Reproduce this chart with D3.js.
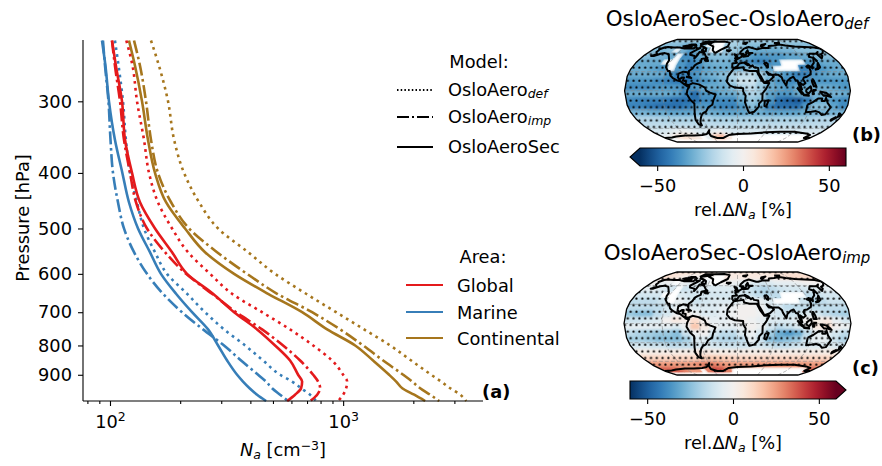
<!DOCTYPE html>
<html>
<head>
<meta charset="utf-8">
<script src="https://cdn.jsdelivr.net/npm/d3@7"></script>
<style>
  html, body { margin: 0; padding: 0; background: #fff; }
  text { font-family: "DejaVu Sans", sans-serif; fill: #000; }
</style>
</head>
<body>
<script>
// profile values, Na [cm-3] per pressure level
var pressure = [235, 260, 300, 350, 400, 450, 500, 550, 600, 650, 700, 750, 800, 850, 900, 925, 950, 975, 1000];

var marineSec = [92.4, 95.6, 99, 105, 113, 120.6, 131.9, 148.4, 165.4, 192, 224.9, 263.4, 290.8, 318, 350.9, 372, 396.9, 427.5, 467.3];
var marineImp = [93.3, 95.2, 98.5, 100.5, 103, 108.2, 114.8, 126.8, 144.1, 168.8, 203.6, 250.6, 308.5, 365, 431.8, 467.3, 495.7, 536.7, 580.6];
var marineDef = [105, 108.8, 113.7, 117, 121.9, 130.6, 139.9, 156, 175.6, 214, 255.7, 308.5, 379.6, 453.7, 536.7, 604, 660, 721.7, 766];

var globalSec = [102, 106, 112.6, 116, 124.3, 134.5, 156, 184.6, 214, 276.7, 340.6, 427.5, 510.6, 592, 641, 667, 660, 622, 575];
var globalImp = [102, 105, 110.4, 114.8, 121.9, 129.3, 144.1, 172.2, 212, 274, 347.4, 449, 552.7, 654, 743.6, 781, 796.7, 773.8, 721.7];
var globalDef = [117.5, 124.9, 130.6, 139.9, 147, 160.6, 184.6, 216, 268.7, 333.8, 449, 592, 743.6, 896.6, 1000, 1040, 1030, 1000, 951.7];

var contSec = [120.6, 128, 137.2, 145.5, 156, 173.9, 209.8, 255.7, 340.6, 476.5, 667, 853.8, 1126, 1344, 1575, 1689, 1793, 2018, 2248];
var contImp = [126.8, 134.5, 142.7, 149.9, 160.6, 182.8, 218.3, 287.9, 387, 521, 736, 970.6, 1218, 1485, 1809, 1978, 2140, 2360, 2582];
var contDef = [149.9, 162.2, 177.4, 188.3, 207.8, 241, 290.8, 391, 510.6, 693.6, 933, 1230, 1591, 1959, 2386, 2631, 2878, 3176, 3373];

var yTicks = [300, 400, 500, 600, 700, 800, 900];
var xMajor = [100, 1000];
var xMinor = [80, 90, 200, 300, 400, 500, 600, 700, 800, 900, 2000, 3000];
var cbarTicks = [-50, 0, 50];

// map cells: 15 deg lon (from -172.5) by 10 deg lat (from 85N), null = no data
var mapB = [
  [-20,-20,-20,-20,-20,-20,-20,-18,null,null,-15,-18,-20,-20,-20,-20,-20,-20,-20,-20,-20,-20,-20,-20],
  [-25,-25,-25,-28,-30,-30,-25,null,null,null,-20,-20,-22,-25,-25,-25,-25,-25,-25,-25,-25,-25,-25,-25],
  [-25,-28,-25,null,-28,-35,-30,-25,null,null,-22,-22,-25,-28,-30,-30,-30,-30,-28,-28,-25,-25,-25,-25],
  [-25,-28,-28,-30,null,-38,-35,-30,-25,-25,-25,-28,-30,-33,-35,-35,-35,-35,-32,-32,-30,-28,-25,-25],
  [-30,-30,-30,null,null,-35,-40,-35,-30,-28,-28,-30,-35,-38,-40,-40,-35,null,null,null,-35,-32,-30,-30],
  [-30,-30,-32,-35,null,-35,-40,-38,-32,-30,-30,-30,-30,-25,-30,-32,null,null,null,-40,-40,-35,-32,-30],
  [-30,-30,-30,-30,-35,-40,-40,-35,-30,-28,-25,-18,-15,-15,-20,-25,-30,-35,-40,-40,-35,-32,-30,-30],
  [-35,-35,-35,-38,-40,-42,-45,-40,-35,-32,-28,-20,-12,-12,-20,-30,-35,-38,-38,-35,-35,-35,-35,-35],
  [-38,-38,-38,-35,-35,-35,-40,-35,-30,-30,-30,-25,-18,-15,-22,-30,-32,-35,-30,-30,-30,-30,-32,-35],
  [-30,-30,-30,-30,-30,-32,-38,-45,-35,-35,-30,-30,-25,-18,-20,-32,-35,-35,-30,-28,-28,-28,-28,-30],
  [-38,-40,-40,-40,-42,-45,-45,-45,-38,-38,-38,-38,-30,-22,-25,-35,-45,-48,-50,-42,-30,-30,-35,-38],
  [-40,-40,-42,-45,-45,-45,-42,-35,-35,-38,-40,-40,-35,-25,-30,-40,-45,-45,-45,-35,-25,-25,-32,-38],
  [-28,-28,-30,-30,-32,-32,-32,-28,-28,-30,-32,-32,-32,-30,-30,-32,-32,-32,-32,-30,-28,-28,-28,-28],
  [-18,-18,-18,-20,-20,-20,-20,-18,-18,-20,-20,-20,-20,-20,-20,-20,-20,-20,-20,-20,-20,-18,-18,-18],
  [-15,-15,-15,-15,-15,-15,-15,-15,-15,-15,-15,-15,-15,-15,-15,-15,-15,-15,-15,-15,-15,-15,-15,-15],
  [-10,-10,-8,-5,-3,-5,-8,-8,-5,-3,-8,-10,-10,-10,-10,-10,-10,-10,-10,-10,-10,-10,-10,-10],
  [-5,-3,5,8,8,5,null,-5,15,20,5,null,null,null,null,null,null,null,null,null,null,null,null,-5],
  [null,null,null,null,null,null,null,null,null,null,null,null,null,null,null,null,null,null,null,null,null,null,null,null]
];
var mapC = [
  [8,8,8,8,6,6,6,6,null,null,5,5,6,6,6,6,6,6,8,8,8,8,8,8],
  [10,8,5,3,0,0,0,null,null,null,5,5,5,5,5,5,5,5,8,8,10,10,10,10],
  [0,-5,-3,null,-3,-5,-8,-5,null,null,0,-3,-5,-5,-8,-10,-8,-5,-5,-5,-3,0,0,0],
  [-5,-5,-8,-10,null,-12,-10,-8,-8,-8,-8,-8,-10,-12,-15,-18,-15,-12,-10,-10,-10,-8,-5,-5],
  [-10,-10,-10,null,null,-8,-10,-10,-10,-10,-10,-10,-10,-12,-15,-18,-15,null,null,null,-15,-12,-10,-10],
  [-15,-15,-15,-12,null,-5,-8,-12,-10,-8,-8,-8,-5,-3,-5,-8,null,null,null,-12,-18,-15,-12,-12],
  [-15,-15,-15,-15,-10,-5,-5,-8,-8,-8,-5,-3,0,0,-3,-8,-10,-15,-15,-15,-15,-15,-15,-15],
  [-22,-25,-25,-15,-10,-3,3,-3,-8,-8,-5,-2,0,0,-2,-8,-10,-12,-12,-8,-10,-15,-18,-20],
  [-12,-12,-10,-8,0,5,2,10,0,-5,-5,-3,0,-2,-5,-8,-8,-8,-5,0,3,5,-5,-10],
  [-5,-5,-5,-5,-5,-8,-3,16,4,-3,-5,-5,-3,0,-3,-10,-15,-12,-8,-3,5,10,0,-3],
  [-15,-18,-20,-22,-22,-25,-12,-3,0,-10,-15,-15,-8,-3,-10,-20,-30,-35,-30,-15,-5,-5,-10,-15],
  [-20,-20,-22,-25,-25,-25,-20,-8,-8,-15,-18,-18,-15,-5,-12,-25,-28,-25,-22,-12,-5,-5,-12,-18],
  [-10,-10,-12,-12,-15,-15,-15,-10,-8,-10,-12,-12,-12,-10,-10,-12,-15,-15,-12,-10,-8,-8,-8,-10],
  [3,3,3,3,3,3,3,5,5,3,3,3,3,3,3,3,3,3,3,3,3,3,3,3],
  [12,12,12,12,12,12,12,14,15,15,14,12,12,12,12,12,12,12,12,12,12,12,12,12],
  [25,25,25,25,25,25,28,30,30,28,25,25,25,25,25,25,25,25,25,25,25,25,25,25],
  [35,35,35,30,25,25,null,30,40,38,30,null,null,null,null,null,null,null,null,null,null,null,null,35],
  [null,null,null,null,null,null,null,null,null,null,null,null,null,null,null,null,null,null,null,null,null,null,null,null]
];

// cells with stippling, one string per latitude band
var sigB = [
  "111111111111111111111111","111111111111111111111111","111111111111111111111111",
  "111111111111111111111111","111111111111111111111111","111111111111111111111111",
  "111111111111111111111111","111111111111111111111111","111111111111111111111111",
  "111111111111111111111111","111111111111111111111111","111111111111111111111111",
  "111111111111111111111111","111111111111111111111111","111111111111111111111111",
  "111111111111111111111111","000000000000000000000000","000000000000000000000000"
];
var sigC = [
  "111111111111111111111111","111111000000000000111111","001000000000000000000000",
  "111100110001101111111111","111101111111111111111111","111101111111100111011111",
  "111111111111000000111111","111111111111000001111111","111101101011000111111111",
  "111111001011100111111111","111111111111110111111111","111111111111111111111111",
  "111111111111111111111111","111111111111111111111111","111111111111111111111111",
  "111111111111111111111111","100000001100000000000001","000000000000000000000000"
];

// rough coastlines as lon/lat lines
var coastLines = [
  // North and Central America
  [[-168,66],[-162,70],[-156,71],[-141,70],[-128,70],[-115,68],[-108,68],[-95,68],[-94,72],[-88,68],[-82,69],[-86,66],[-94,60],[-92,57],[-82,55],[-80,51],[-78,55],[-77,62],[-70,61],[-65,59],[-60,54],[-56,52],[-66,50],[-65,45],[-70,43],[-74,40],[-76,35],[-81,31],[-80,25],[-83,29],[-90,30],[-97,27],[-97,21],[-94,18],[-90,21],[-87,21],[-88,16],[-83,15],[-83,10],[-78,9],[-80,7],[-85,10],[-92,15],[-97,16],[-105,20],[-110,24],[-113,31],[-116,31],[-117,32],[-122,37],[-124,43],[-124,48],[-130,54],[-135,58],[-145,60],[-152,59],[-160,55],[-165,55],[-158,58],[-165,62],[-165,65],[-168,66]],
  // South America
  [[-78,9],[-72,12],[-62,10],[-52,5],[-50,0],[-44,-3],[-35,-6],[-39,-15],[-41,-22],[-48,-26],[-53,-33],[-58,-35],[-62,-39],[-65,-44],[-68,-50],[-68,-55],[-73,-53],[-75,-46],[-73,-37],[-70,-20],[-76,-14],[-81,-5],[-80,1],[-77,7],[-78,9]],
  // Africa
  [[-6,35],[10,37],[11,33],[20,31],[32,31],[37,20],[43,12],[51,12],[45,2],[40,-4],[40,-15],[35,-20],[35,-25],[28,-33],[20,-35],[18,-32],[12,-18],[13,-8],[9,-1],[9,4],[-4,5],[-12,8],[-17,14],[-16,22],[-10,30],[-6,35]],
  // Eurasia
  [[-9,37],[-9,43],[-1,44],[-4,48],[4,52],[8,54],[8,57],[11,54],[20,55],[24,59],[30,60],[22,60],[21,65],[17,61],[18,59],[13,55],[11,59],[5,59],[6,62],[14,68],[25,71],[40,67],[44,67],[54,69],[68,69],[72,73],[85,74],[100,76],[112,74],[130,72],[150,71],[170,70],[179,68],[179,65],[170,60],[163,58],[162,55],[156,51],[156,58],[163,62],[155,59],[142,59],[135,54],[141,52],[135,44],[129,40],[127,35],[125,38],[122,40],[118,38],[122,36],[122,31],[120,26],[113,22],[108,21],[106,18],[109,12],[105,9],[100,13],[103,2],[100,5],[98,10],[97,16],[94,16],[91,22],[86,20],[80,15],[78,8],[73,17],[72,21],[67,25],[57,25],[52,27],[48,30],[51,25],[56,25],[59,22],[52,16],[43,13],[39,21],[35,28],[35,36],[28,37],[26,40],[23,38],[19,42],[13,45],[18,40],[12,44],[9,44],[3,43],[0,39],[-5,36],[-9,37]],
  // Australia
  [[114,-22],[122,-18],[130,-12],[136,-12],[136,-16],[141,-16],[142,-11],[146,-19],[153,-26],[150,-37],[144,-38],[138,-34],[131,-32],[124,-33],[115,-34],[114,-22]],
  // Greenland
  [[-45,60],[-52,65],[-55,72],[-70,77],[-62,82],[-35,83],[-20,80],[-22,72],[-35,66],[-45,60]],
  // Canadian islands
  [[-65,62],[-75,65],[-72,70],[-85,73],[-78,72],[-68,68],[-65,62]],
  [[-118,72],[-105,73],[-102,69],[-115,69],[-118,72]],
  [[-90,76],[-75,78],[-62,82],[-85,82],[-90,76]],
  [[-125,72],[-115,74],[-110,76],[-100,76],[-96,74],[-108,75],[-125,72]],
  [[-56,47],[-53,47],[-56,51],[-59,48],[-56,47]],
  // Islands of Europe and the Arctic
  [[-5,50],[1,51],[-2,57],[-6,58],[-3,54],[-5,50]],
  [[-24,65],[-14,65],[-18,63],[-24,65]],
  [[12,78],[25,80],[20,77],[12,78]],
  [[52,71],[56,75],[68,77],[56,72],[52,71]],
  [[92,79],[105,79],[100,77],[92,79]],
  // Asia and the Pacific
  [[130,33],[136,34],[141,37],[142,44],[140,42],[136,36],[130,33]],
  [[142,54],[143,47],[142,50],[142,54]],
  [[95,5],[104,-3],[106,-6],[101,-3],[95,5]],
  [[106,-6],[114,-7],[114,-8],[106,-7],[106,-6]],
  [[109,1],[117,7],[118,1],[114,-4],[110,-2],[109,1]],
  [[120,1],[125,1],[121,-1],[122,-5],[120,-5],[120,1]],
  [[131,-1],[141,-3],[148,-8],[150,-10],[143,-8],[138,-8],[131,-1]],
  [[120,18],[122,18],[124,13],[126,7],[122,7],[120,14],[120,18]],
  [[172,-35],[178,-38],[175,-41],[172,-35]],
  [[172,-41],[174,-42],[168,-47],[167,-45],[172,-41]],
  [[44,-16],[50,-15],[47,-25],[44,-24],[44,-16]],
  [[-84,22],[-75,20],[-78,22],[-84,22]],
  [[50,45],[53,42],[52,37],[50,38],[47,43],[50,45]],
  // Antarctica
  [[-180,-78],[-160,-77],[-145,-75],[-120,-73],[-100,-73],[-80,-72],[-68,-70],[-58,-63],[-62,-68],[-62,-74],[-50,-78],[-35,-78],[-20,-72],[0,-70],[30,-69],[60,-67],[90,-66],[120,-66],[150,-69],[165,-72],[165,-78],[180,-78]]
];

var width = 882, height = 466;
var red = "#e41a1c", blue = "#377eb8", brown = "#a6761d";
var dotted = "2.7,4.2", dashdot = "13,3.6,2.6,3.6";
var fontSize = 17.8, subSize = 12.5;

var svg = d3.select("body").append("svg")
    .attr("width", width)
    .attr("height", height);

var defs = svg.append("defs");

var x = d3.scaleLog().domain([76.6, 3980]).range([83, 483]);
var y = d3.scaleLog().domain([234.5, 1000]).range([40, 401]);

function styleAxis(g) {
  g.select(".domain").attr("stroke", "#000").attr("stroke-width", 1.1);
  g.selectAll(".tick line").attr("stroke", "#000").attr("stroke-width", 1.1);
  g.selectAll(".tick text").attr("font-size", fontSize);
}

// ---- panel (a) ----
var line = d3.line()
    .curve(d3.curveMonotoneY)
    .x(function(d) { return x(d[1]); })
    .y(function(d) { return y(d[0]); });

var profiles = [
  {values: contDef, color: brown, dash: dotted},
  {values: contImp, color: brown, dash: dashdot},
  {values: contSec, color: brown, dash: null},
  {values: marineDef, color: blue, dash: dotted},
  {values: marineImp, color: blue, dash: dashdot},
  {values: marineSec, color: blue, dash: null},
  {values: globalDef, color: red, dash: dotted},
  {values: globalImp, color: red, dash: dashdot},
  {values: globalSec, color: red, dash: null}
];

svg.append("g").selectAll("path")
    .data(profiles)
  .enter().append("path")
    .attr("d", function(d) { return line(d3.zip(pressure, d.values)); })
    .attr("fill", "none")
    .attr("stroke", function(d) { return d.color; })
    .attr("stroke-width", 2.6)
    .attr("stroke-dasharray", function(d) { return d.dash; });

var yAxis = d3.axisLeft(y)
    .tickValues(yTicks)
    .tickFormat(d3.format("d"))
    .tickSize(5)
    .tickPadding(6);
svg.append("g")
    .attr("transform", "translate(83,0)")
    .call(yAxis)
    .call(styleAxis)
    .select(".domain").attr("d", "M0,40V401");

var xAxisMinor = d3.axisBottom(x).tickValues(xMinor).tickFormat("").tickSize(3);
svg.append("g")
    .attr("transform", "translate(0,401)")
    .call(xAxisMinor)
    .call(styleAxis)
    .select(".domain").attr("d", "M83,0H483");

var xAxisMajor = d3.axisBottom(x).tickValues(xMajor).tickSize(5).tickPadding(9);
var xMajorG = svg.append("g")
    .attr("transform", "translate(0,401)")
    .call(xAxisMajor)
    .call(styleAxis);
xMajorG.select(".domain").remove();
xMajorG.selectAll(".tick text").each(function(d) {
  var t = d3.select(this).text("10");
  t.append("tspan").attr("dy", -6.5).attr("font-size", subSize).text(Math.log10(d));
});

svg.append("text")
    .attr("transform", "translate(29,218) rotate(-90)")
    .attr("text-anchor", "middle")
    .attr("font-size", fontSize)
    .text("Pressure [hPa]");

// x label with math parts
var xLabel = svg.append("text")
    .attr("x", 283).attr("y", 456)
    .attr("text-anchor", "middle")
    .attr("font-size", fontSize);
xLabel.append("tspan").attr("font-style", "italic").text("N");
xLabel.append("tspan").attr("font-style", "italic").attr("font-size", subSize).attr("dy", 3).text("a");
xLabel.append("tspan").attr("dy", -3).text(" [cm");
xLabel.append("tspan").attr("font-size", subSize).attr("dy", -6.5).text("\u22123");
xLabel.append("tspan").attr("dy", 6.5).text("]");

svg.append("text")
    .attr("x", 482).attr("y", 398)
    .attr("font-size", fontSize).attr("font-weight", "bold")
    .text("(a)");

// legends
function addSubText(sel, main, sub) {
  sel.append("tspan").text(main);
  if (sub) {
    sel.append("tspan")
        .attr("font-size", "0.7em").attr("font-style", "italic").attr("dy", "0.2em")
        .text(sub);
  }
}

svg.append("text").attr("x", 479).attr("y", 68).attr("text-anchor", "middle").attr("font-size", fontSize).text("Model:");

var modelLegend = [
  {main: "OsloAero", sub: "def", dash: "1.5,2.2", ly: 90, ty: 96},
  {main: "OsloAero", sub: "imp", dash: "12,3,2,3", ly: 117, ty: 123},
  {main: "OsloAeroSec", sub: null, dash: null, ly: 147, ty: 153}
];
var modelRows = svg.append("g").selectAll("g").data(modelLegend).enter().append("g");
modelRows.append("line")
    .attr("x1", 397).attr("x2", 433)
    .attr("y1", function(d) { return d.ly; })
    .attr("y2", function(d) { return d.ly; })
    .attr("stroke", "#000").attr("stroke-width", 2)
    .attr("stroke-dasharray", function(d) { return d.dash; });
modelRows.append("text")
    .attr("x", 448)
    .attr("y", function(d) { return d.ty; })
    .attr("font-size", fontSize)
    .each(function(d) { addSubText(d3.select(this), d.main, d.sub); });

svg.append("text").attr("x", 483).attr("y", 263).attr("text-anchor", "middle").attr("font-size", fontSize).text("Area:");

var areaLegend = [
  {name: "Global", color: red, ly: 285},
  {name: "Marine", color: blue, ly: 312},
  {name: "Continental", color: brown, ly: 338}
];
var areaRows = svg.append("g").selectAll("g").data(areaLegend).enter().append("g");
areaRows.append("line")
    .attr("x1", 406).attr("x2", 443)
    .attr("y1", function(d) { return d.ly; })
    .attr("y2", function(d) { return d.ly; })
    .attr("stroke", function(d) { return d.color; })
    .attr("stroke-width", 2);
areaRows.append("text")
    .attr("x", 457)
    .attr("y", function(d) { return d.ly + 6.5; })
    .attr("font-size", fontSize)
    .text(function(d) { return d.name; });

// ---- maps ----
// Robinson table, stretched a bit in y to get the flat look of the panels
var robLat = d3.range(0, 95, 5);
var robPlen = [1, .9986, .9954, .99, .9822, .973, .96, .9427, .9216, .8962, .8679, .835, .7986, .7597, .7186, .6732, .6213, .5722, .5322];
var robPdfe = [0, .062, .124, .186, .248, .31, .372, .434, .4958, .5571, .6176, .6769, .7346, .7903, .8435, .8936, .9394, .9761, 1];
var plenAt = d3.scaleLinear().domain(robLat).range(robPlen);
var pdfeAt = d3.scaleLinear().domain(robLat).range(robPdfe);

function robinsonRaw(lambda, phi) {
  var deg = Math.abs(phi) * 180 / Math.PI;
  var yy = 1.3523 * pdfeAt(deg) * 0.895;
  return [0.8487 * plenAt(deg) * lambda, phi < 0 ? -yy : yy];
}

var colorOf = function(v) { return d3.interpolateRdBu(1 - (v + 60) / 120); };

var dots = defs.append("pattern")
    .attr("id", "dots")
    .attr("patternUnits", "userSpaceOnUse")
    .attr("width", 5.8).attr("height", 13.2);
dots.append("circle").attr("cx", 1.4).attr("cy", 1.6).attr("r", 1.1).attr("fill", "#000");
dots.append("circle").attr("cx", 4.3).attr("cy", 8.2).attr("r", 1.1).attr("fill", "#000");

defs.append("filter").attr("id", "soft")
    .attr("x", "-5%").attr("y", "-5%").attr("width", "110%").attr("height", "110%")
  .append("feGaussianBlur").attr("stdDeviation", 1.8);

function cellShape(i, j) {
  var w = -180 + j * 15, e = w + 15, n = 90 - i * 10, s = n - 10;
  return {type: "Polygon", coordinates: [[[w, s], [w, n], [w + 7.5, n], [e, n], [e, s], [w + 7.5, s], [w, s]]]};
}

function drawMap(id, box, values, sig) {
  var projection = d3.geoProjection(robinsonRaw)
      .fitExtent([[box.x0, box.y0], [box.x1, box.y1]], {type: "Sphere"});
  var path = d3.geoPath(projection);

  var cells = [];
  values.forEach(function(row, i) {
    row.forEach(function(v, j) {
      if (v !== null) cells.push({i: i, j: j, v: v, sig: sig[i][j] === "1"});
    });
  });

  defs.append("clipPath").attr("id", "clip" + id)
    .append("path").attr("d", path({type: "Sphere"}));

  var g = svg.append("g").attr("clip-path", "url(#clip" + id + ")");

  function addCells(parent, fill) {
    parent.selectAll("path").data(cells)
      .enter().append("path")
        .attr("d", function(d) { return path(cellShape(d.i, d.j)); })
        .attr("fill", fill)
        .attr("stroke", fill)
        .attr("stroke-width", 0.4);
  }
  addCells(g.append("g"), function(d) { return colorOf(d.v); });
  addCells(g.append("g").attr("filter", "url(#soft)"), function(d) { return colorOf(d.v); });

  g.append("path")
      .attr("d", path(d3.geoGraticule().step([60, 30])()))
      .attr("fill", "none")
      .attr("stroke", "#888")
      .attr("stroke-opacity", 0.6)
      .attr("stroke-width", 1)
      .attr("stroke-dasharray", "4,2");

  g.append("g").selectAll("path")
      .data(cells.filter(function(d) { return d.sig; }))
    .enter().append("path")
      .attr("d", function(d) { return path(cellShape(d.i, d.j)); })
      .attr("fill", "url(#dots)");

  g.append("path")
      .attr("d", path({type: "MultiLineString", coordinates: coastLines}))
      .attr("fill", "none")
      .attr("stroke", "#000")
      .attr("stroke-width", 2)
      .attr("stroke-linejoin", "round");

  svg.append("path")
      .attr("d", path({type: "Sphere"}))
      .attr("fill", "none")
      .attr("stroke", "#000")
      .attr("stroke-width", 1.3);
}

drawMap("B", {x0: 624, x1: 851, y0: 39.5, y1: 142}, mapB, sigB);
drawMap("C", {x0: 624, x1: 851, y0: 272, y1: 375}, mapC, sigC);

function addTitle(cx, by, main, sub) {
  svg.append("text")
      .attr("x", cx).attr("y", by)
      .attr("text-anchor", "middle")
      .attr("font-size", 21.4)
      .each(function() { addSubText(d3.select(this), main, sub); });
}
addTitle(737, 26, "OsloAeroSec-OsloAero", "def");
addTitle(737, 260, "OsloAeroSec-OsloAero", "imp");

svg.append("text").attr("x", 852).attr("y", 141).attr("font-size", fontSize).attr("font-weight", "bold").text("(b)");
svg.append("text").attr("x", 852).attr("y", 374).attr("font-size", fontSize).attr("font-weight", "bold").text("(c)");

// ---- colorbars ----
var gradient = defs.append("linearGradient").attr("id", "rdbu");
d3.range(0, 1.001, 0.05).forEach(function(t) {
  gradient.append("stop")
      .attr("offset", t)
      .attr("stop-color", colorOf(-60 + 120 * t));
});

function drawColorbar(x0, x1, y0, y1, tip, labelY) {
  var scale = d3.scaleLinear().domain([-60, 60]).range([x0, x1]);
  var mid = (y0 + y1) / 2;
  var g = svg.append("g");
  var outline;
  if (tip === "left") {
    outline = [[x0, y0], [x1, y0], [x1, y1], [x0, y1], [x0 - 10, mid]];
    g.append("polygon").attr("points", [[x0, y0], [x0 - 10, mid], [x0, y1]].join(" ")).attr("fill", colorOf(-60));
  } else {
    outline = [[x0, y0], [x1, y0], [x1 + 10, mid], [x1, y1], [x0, y1]];
    g.append("polygon").attr("points", [[x1, y0], [x1 + 10, mid], [x1, y1]].join(" ")).attr("fill", colorOf(60));
  }
  g.append("rect")
      .attr("x", x0).attr("y", y0)
      .attr("width", x1 - x0).attr("height", y1 - y0)
      .attr("fill", "url(#rdbu)");
  g.append("polygon")
      .attr("points", outline.join(" "))
      .attr("fill", "none")
      .attr("stroke", "#000")
      .attr("stroke-width", 1.1);

  var axis = d3.axisBottom(scale)
      .tickValues(cbarTicks)
      .tickFormat(function(d) { return d < 0 ? "\u2212" + Math.abs(d) : d; })
      .tickSize(5)
      .tickPadding(8);
  var axisG = g.append("g")
      .attr("transform", "translate(0," + y1 + ")")
      .call(axis)
      .call(styleAxis);
  axisG.select(".domain").remove();

  var label = svg.append("text")
      .attr("x", (x0 + x1) / 2).attr("y", labelY)
      .attr("text-anchor", "middle")
      .attr("font-size", fontSize);
  label.append("tspan").text("rel.\u0394");
  label.append("tspan").attr("font-style", "italic").text("N");
  label.append("tspan").attr("font-style", "italic").attr("font-size", subSize).attr("dy", 3).text("a");
  label.append("tspan").attr("dy", -3).text(" [%]");
}

drawColorbar(640, 846, 148, 166, "left", 216);
drawColorbar(630, 836, 381, 399, "right", 449);
</script>
</body>
</html>
